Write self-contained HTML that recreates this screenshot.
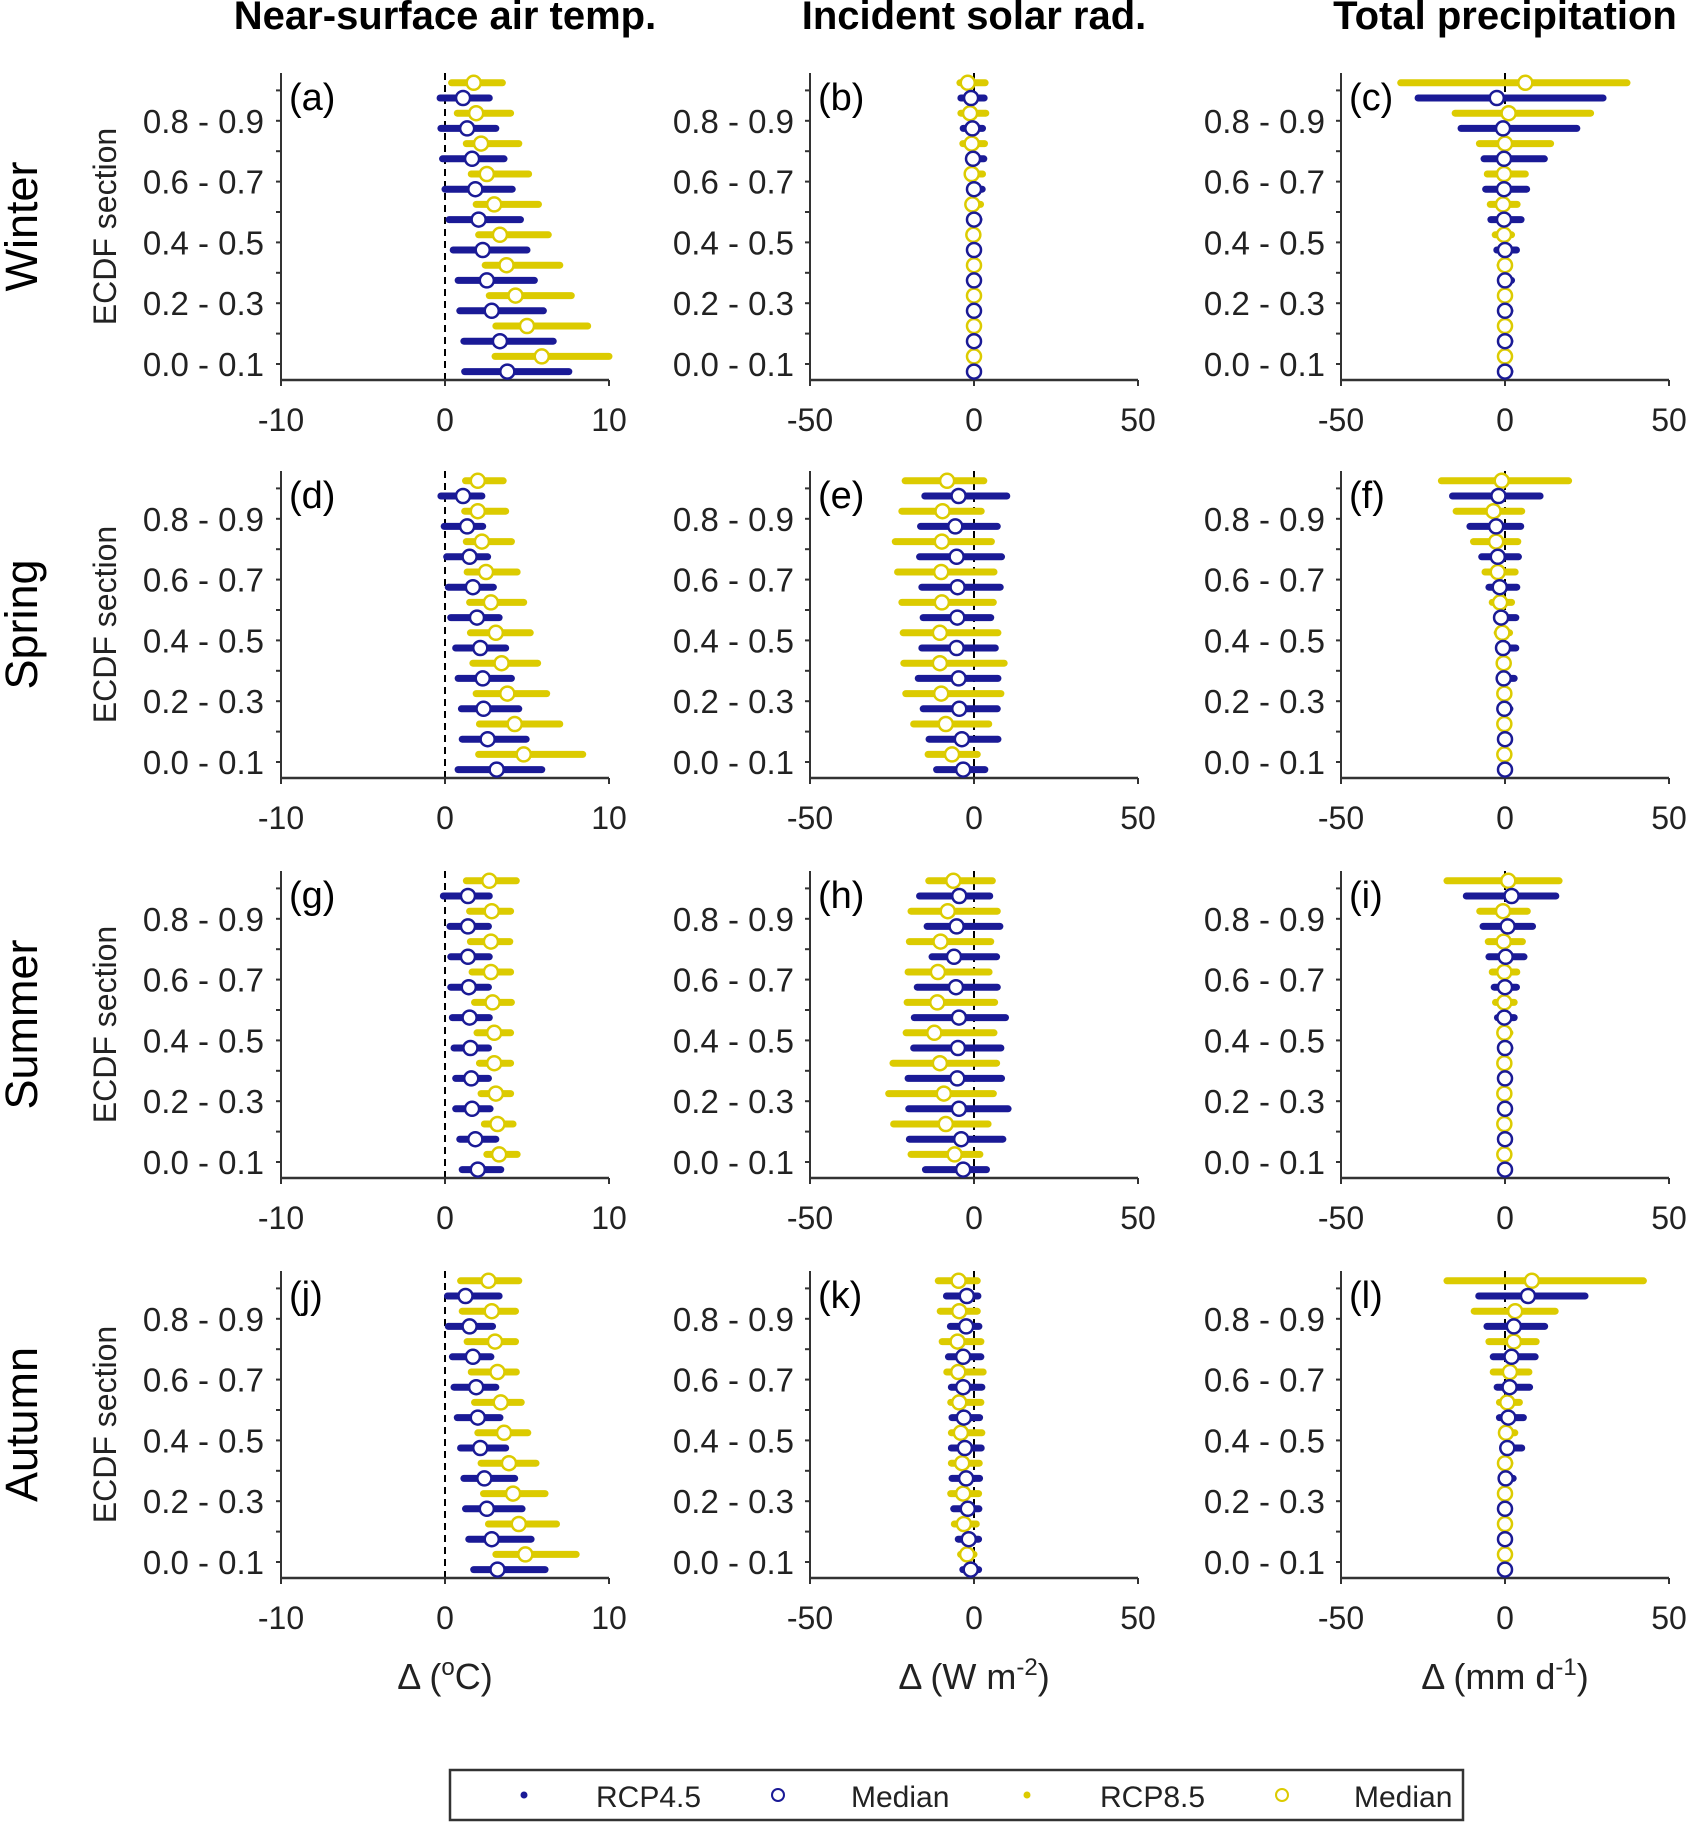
<!DOCTYPE html>
<html><head><meta charset="utf-8"><style>
html,body{margin:0;padding:0;background:#fff;}
svg{display:block;font-family:"Liberation Sans",sans-serif;}
</style></head><body>
<svg id="fig" width="1691" height="1824" viewBox="0 0 1691 1824" xmlns="http://www.w3.org/2000/svg"></svg>
<script>
const sectionLabels = ["0.0 - 0.1","0.1 - 0.2","0.2 - 0.3","0.3 - 0.4","0.4 - 0.5","0.5 - 0.6","0.6 - 0.7","0.7 - 0.8","0.8 - 0.9","0.9 - 1.0"];
const colTitles = ["Near-surface air temp.","Incident solar rad.","Total precipitation"];
const rowTitles = ["Winter","Spring","Summer","Autumn"];
const xTicksTemp = [-10,0,10];
const xTicksWide = [-50,0,50];
const panelLetters = ["a","b","c","d","e","f","g","h","i","j","k","l"];

// values indexed by ECDF section 0.0-0.1 ... 0.9-1.0
const a_r85_lo=[3.05,3.1,2.7,2.45,2.05,1.9,1.6,1.3,0.75,0.4];
const a_r85_hi=[10,8.7,7.7,7.0,6.3,5.7,5.1,4.5,4.0,3.5];
const a_r85_med=[5.9,5.0,4.3,3.75,3.35,3.0,2.55,2.2,1.9,1.75];
const a_r45_lo=[1.2,1.15,0.9,0.8,0.5,0.25,0,-0.15,-0.25,-0.3];
const a_r45_hi=[7.55,6.6,6.0,5.45,5.0,4.6,4.1,3.6,3.1,2.7];
const a_r45_med=[3.8,3.35,2.85,2.55,2.3,2.05,1.85,1.65,1.35,1.1];

const b_r85_lo=[-0.5,-0.5,-0.5,-0.5,-0.7,-1,-1.5,-3.4,-4,-4.3];
const b_r85_hi=[0.5,0.5,0.5,0.6,1,2,2.6,3.2,3.6,3.4];
const b_r85_med=[0,0,0,0,-0.2,-0.5,-0.7,-0.7,-1.2,-1.9];
const b_r45_lo=[-0.4,-0.4,-0.4,-0.4,-0.5,-0.5,-0.5,-1.5,-3.3,-4];
const b_r45_hi=[0.5,0.5,0.6,0.8,1,1.5,2.5,3,2.6,3.1];
const b_r45_med=[0,0,0,0,0,0,0,-0.3,-0.5,-0.9];

const c_r85_lo=[-0.8,-0.8,-0.8,-1.5,-3,-4.5,-5.4,-7.8,-15.2,-31.8];
const c_r85_hi=[0.8,0.8,0.8,1,2,3.7,6.2,13.9,26.1,37.2];
const c_r85_med=[0,0,0,0,-0.3,-0.6,-0.3,0,1.1,6.2];
const c_r45_lo=[-0.8,-0.8,-0.8,-1,-2.5,-4.3,-5.9,-6.4,-13.4,-26.5];
const c_r45_hi=[1.5,1.5,1.5,2,3.5,4.9,6.6,12,21.9,29.9];
const c_r45_med=[0,0,0,0,0,-0.3,-0.3,-0.3,-0.6,-2.5];

const d_r85_lo=[2.05,2.1,1.9,1.7,1.55,1.5,1.35,1.3,1.2,1.25];
const d_r85_hi=[8.4,7.0,6.2,5.65,5.2,4.8,4.4,4.05,3.7,3.55];
const d_r85_med=[4.8,4.25,3.8,3.45,3.1,2.8,2.5,2.25,2.0,2.0];
const d_r45_lo=[0.8,1.05,1.0,0.8,0.65,0.35,0.2,0.1,-0.05,-0.25];
const d_r45_hi=[5.9,4.95,4.5,4.05,3.7,3.3,2.95,2.6,2.3,2.25];
const d_r45_med=[3.15,2.6,2.35,2.3,2.15,1.95,1.7,1.5,1.35,1.1];

const e_r85_lo=[-14,-18.4,-20.8,-21.4,-21.6,-22,-23.3,-24,-22,-21];
const e_r85_hi=[1,4.5,8.2,9.2,7.3,5.9,6.1,5.3,2.2,3];
const e_r85_med=[-6.7,-8.6,-10,-10.4,-10.4,-9.8,-10,-9.8,-9.6,-8.2];
const e_r45_lo=[-11.4,-13.7,-15.5,-17,-15.9,-15.5,-15.9,-16.6,-16.3,-15];
const e_r45_hi=[3.3,7.3,7.1,7.3,6.5,5.1,8,8.4,7.1,10];
const e_r45_med=[-3.3,-3.7,-4.5,-4.7,-5.3,-5.1,-5,-5.3,-5.7,-4.7];

const f_r85_lo=[-1,-1,-1,-1.6,-2.4,-3.9,-6.1,-9.6,-14.9,-19.4];
const f_r85_hi=[1,1,1,1,1.4,2,3.1,3.9,5.1,19.4];
const f_r85_med=[-0.2,-0.2,-0.2,-0.4,-0.8,-1.5,-2.2,-2.7,-3.5,-1];
const f_r45_lo=[-1,-1,-1,-1.6,-1.8,-2.4,-4.9,-7.1,-10.7,-16];
const f_r45_hi=[1,1,1.5,2.8,3.3,3.3,3.6,4.1,4.8,10.7];
const f_r45_med=[0,0,-0.2,-0.4,-0.6,-1.2,-1.6,-2.2,-2.7,-2];

const g_r85_lo=[2.55,2.4,2.2,2.1,1.95,1.8,1.65,1.55,1.5,1.3];
const g_r85_hi=[4.4,4.15,4.0,4.0,4.0,4.05,4.0,3.95,4.0,4.35];
const g_r85_med=[3.3,3.2,3.1,3.0,3.0,2.9,2.8,2.8,2.85,2.7];
const g_r45_lo=[1.05,0.9,0.65,0.65,0.55,0.45,0.35,0.35,0.3,-0.1];
const g_r45_hi=[3.4,3.1,2.75,2.65,2.65,2.7,2.65,2.7,2.65,2.7];
const g_r45_med=[2.0,1.85,1.65,1.6,1.55,1.5,1.45,1.4,1.4,1.4];

const h_r85_lo=[-19.2,-24.5,-26,-24.7,-20.7,-20.4,-20.1,-19.7,-19.2,-13.8];
const h_r85_hi=[1.8,4.3,5.9,6.9,6.1,6.3,4.6,5.1,7.1,5.6];
const h_r85_med=[-5.9,-8.6,-9.2,-10.4,-12.1,-11.2,-11,-10.2,-8,-6.3];
const h_r45_lo=[-14.8,-19.7,-19.9,-20.1,-18.4,-18.2,-17.3,-12.8,-14.3,-16.6];
const h_r45_hi=[3.8,8.8,10.4,8.4,8.2,9.6,7.1,6.9,7.9,4.8];
const h_r45_med=[-3.3,-3.9,-4.6,-5.1,-4.9,-4.6,-5.5,-6.1,-5.3,-4.5];

const i_r85_lo=[-0.8,-0.8,-1,-1,-1.5,-2.9,-3.9,-5.1,-7.7,-17.7];
const i_r85_hi=[0.8,0.8,1,1,1.5,2.8,3.6,5.3,6.8,16.5];
const i_r85_med=[-0.2,-0.2,-0.2,-0.2,-0.2,-0.2,-0.2,-0.4,-0.6,1];
const i_r45_lo=[-0.8,-0.8,-0.8,-1,-1,-2.3,-3.3,-4.9,-6.7,-11.8];
const i_r45_hi=[0.8,0.8,0.8,1,1.5,2.8,3.5,5.8,8.4,15.5];
const i_r45_med=[0,0,0,0,0,-0.2,0,0.2,0.8,2];

const j_r85_lo=[3.1,2.65,2.35,2.2,2.0,1.8,1.6,1.35,1.05,0.95];
const j_r85_hi=[8.0,6.8,6.1,5.55,5.05,4.65,4.35,4.3,4.3,4.5];
const j_r85_med=[4.9,4.5,4.15,3.9,3.6,3.4,3.2,3.05,2.85,2.65];
const j_r45_lo=[1.75,1.45,1.25,1.15,0.95,0.75,0.55,0.45,0.2,0.15];
const j_r45_hi=[6.1,5.25,4.7,4.25,3.7,3.35,3.1,2.8,2.9,3.3];
const j_r45_med=[3.2,2.85,2.55,2.4,2.15,2.0,1.9,1.7,1.5,1.25];

const k_r85_lo=[-4.1,-6,-7.1,-6.9,-6.9,-7.1,-8.3,-9.7,-10.3,-10.9];
const k_r85_hi=[0,0.7,1.4,1.6,2.4,2.1,2.8,2.1,1,1];
const k_r85_med=[-2.1,-3.1,-3.3,-3.6,-4,-4.5,-4.8,-5,-4.5,-4.7];
const k_r45_lo=[-3.4,-4.8,-6.2,-6.7,-6.9,-6.7,-6.9,-7.8,-7.2,-8.4];
const k_r45_hi=[1.4,1.4,1.5,1.7,2.2,1.7,2.4,2.1,1.5,1.2];
const k_r45_med=[-1,-1.6,-1.9,-2.4,-2.8,-3.1,-3.3,-3.3,-2.4,-2.2];

const l_r85_lo=[-0.8,-0.8,-0.8,-0.8,-1,-1.7,-3.6,-4.9,-9.4,-17.7];
const l_r85_hi=[0.8,0.8,0.8,1.5,3,4.4,7.3,9.5,15.3,42.2];
const l_r85_med=[0,0,0,0,0.3,0.7,1.5,2.7,3.1,8.2];
const l_r45_lo=[-0.8,-0.8,-0.8,-0.8,-0.7,-1.7,-2.4,-3.6,-5.5,-8];
const l_r45_hi=[0.8,0.8,1,2.5,5.1,5.6,7.5,9.2,12.1,24.4];
const l_r45_med=[0,0,0,0.2,0.7,1,1.4,2,2.7,7];

const panels = [
 [a_r85_lo,a_r85_hi,a_r85_med,a_r45_lo,a_r45_hi,a_r45_med],
 [b_r85_lo,b_r85_hi,b_r85_med,b_r45_lo,b_r45_hi,b_r45_med],
 [c_r85_lo,c_r85_hi,c_r85_med,c_r45_lo,c_r45_hi,c_r45_med],
 [d_r85_lo,d_r85_hi,d_r85_med,d_r45_lo,d_r45_hi,d_r45_med],
 [e_r85_lo,e_r85_hi,e_r85_med,e_r45_lo,e_r45_hi,e_r45_med],
 [f_r85_lo,f_r85_hi,f_r85_med,f_r45_lo,f_r45_hi,f_r45_med],
 [g_r85_lo,g_r85_hi,g_r85_med,g_r45_lo,g_r45_hi,g_r45_med],
 [h_r85_lo,h_r85_hi,h_r85_med,h_r45_lo,h_r45_hi,h_r45_med],
 [i_r85_lo,i_r85_hi,i_r85_med,i_r45_lo,i_r45_hi,i_r45_med],
 [j_r85_lo,j_r85_hi,j_r85_med,j_r45_lo,j_r45_hi,j_r45_med],
 [k_r85_lo,k_r85_hi,k_r85_med,k_r45_lo,k_r45_hi,k_r45_med],
 [l_r85_lo,l_r85_hi,l_r85_med,l_r45_lo,l_r45_hi,l_r45_med]
];

const BLUE="#1a1a96", YEL="#dccb00", AX="#333";
const NS="http://www.w3.org/2000/svg";
const svg=document.getElementById('fig');
function mk(tag,attrs,parent,text){const e=document.createElementNS(NS,tag);for(const k in attrs)e.setAttribute(k,attrs[k]);if(text!==undefined)e.textContent=text;(parent||svg).appendChild(e);return e;}

const colLeft=[281,810,1341], W=328;
const rowBottom=[380,778,1178,1578], H=307;

for(let c=0;c<3;c++){
  const t=mk('text',{x:colLeft[c]+W/2,y:29,'text-anchor':'middle','font-size':40,'font-weight':'bold',fill:'#000'},svg,colTitles[c]);
  
  
}
for(let r=0;r<4;r++){
  const cy=rowBottom[r]-H/2;
  const t=mk('text',{x:0,y:0,transform:`translate(37,${cy}) rotate(-90)`,'text-anchor':'middle','font-size':45,fill:'#000'},svg,rowTitles[r]);
  
  
  const t2=mk('text',{x:0,y:0,transform:`translate(116,${cy}) rotate(-90)`,'text-anchor':'middle','font-size':32,fill:'#222'},svg,'ECDF section');
  
  
}

for(let r=0;r<4;r++){
  for(let c=0;c<3;c++){
    const idx=r*3+c;
    const x0=colLeft[c], yb=rowBottom[r], yt=yb-H;
    const lim = c===0?10:50;
    const xs=v=>x0+(v+lim)/(2*lim)*W;
    const ys=k=>yb-16-k*30.4;
    const g=mk('g',{});
    
    
    const z=mk('line',{x1:xs(0),x2:xs(0),y1:yt,y2:yb,stroke:'#000','stroke-width':2,'stroke-dasharray':'7,5'},g);
    
    
    const ya=mk('line',{x1:x0,x2:x0,y1:yt,y2:yb,stroke:AX,'stroke-width':2},g);
    
    
    const xa=mk('line',{x1:x0,x2:x0+W,y1:yb,y2:yb,stroke:AX,'stroke-width':2.5},g);
    
    
    for(let k=0;k<10;k++){
      mk('line',{x1:x0-5,x2:x0,y1:ys(k),y2:ys(k),stroke:AX,'stroke-width':2},g);
      if(k%2===0){
        const tl=mk('text',{x:c===0?264:(c===1?794:1325),y:ys(k)+12,'text-anchor':'end','font-size':33,fill:'#222'},g,sectionLabels[k]);
        
        
      }
    }
    const ticks=c===0?xTicksTemp:xTicksWide;
    ticks.forEach(v=>{
      mk('line',{x1:xs(v),x2:xs(v),y1:yb,y2:yb+6,stroke:AX,'stroke-width':2},g);
      const tl=mk('text',{x:xs(v),y:yb+51,'text-anchor':'middle','font-size':32,fill:'#222'},g,String(v));
      
      
    });
    const pl=mk('text',{x:x0+8,y:yt+37,'font-size':38,fill:'#000'},g,'('+panelLetters[idx]+')');
    
    
    const P=panels[idx];
    for(let k=0;k<10;k++){
      [[P[0],P[1],P[2],YEL,-7.6,'rcp85'],[P[3],P[4],P[5],BLUE,7.6,'rcp45']].forEach(s=>{
        const y=ys(k)+s[4];
        const ln=mk('line',{x1:xs(s[0][k]),x2:xs(s[1][k]),y1:y,y2:y,stroke:s[3],'stroke-width':7,'stroke-linecap':'round'},g);
        
        
        const ci=mk('circle',{cx:xs(s[2][k]),cy:y,r:7,fill:'#fff',stroke:s[3],'stroke-width':2.5},g);
        
        
      });
    }
  }
}

const xt=[["Δ (","o","C)"],["Δ (W m","-2",")"],["Δ (mm d","-1",")"]];
for(let c=0;c<3;c++){
  const t=mk('text',{x:colLeft[c]+W/2,y:1689,'text-anchor':'middle','font-size':36,fill:'#222'});
  
  
  mk('tspan',{},t,xt[c][0]);
  mk('tspan',{dy:-14,'font-size':24},t,xt[c][1]);
  mk('tspan',{dy:14},t,xt[c][2]);
}

const lg=mk('g',{});


mk('rect',{x:450,y:1770,width:1013,height:50,fill:'#fff',stroke:'#333','stroke-width':2.5},lg);
const legItems=[[524,596,'dot',BLUE,'RCP4.5'],[778,851,'circ',BLUE,'Median'],[1027,1100,'dot',YEL,'RCP8.5'],[1282,1354,'circ',YEL,'Median']];
legItems.forEach((it,i)=>{
  if(it[2]==='dot'){const m=mk('circle',{cx:it[0],cy:1795,r:3.5,fill:it[3]},lg);
    
    }
  else {const m=mk('circle',{cx:it[0],cy:1795,r:6,fill:'none',stroke:it[3],'stroke-width':2},lg);
    
    }
  const t=mk('text',{x:it[1],y:1807,'font-size':30,fill:'#222'},lg,it[4]);
  
  
});
</script>
</body></html>
